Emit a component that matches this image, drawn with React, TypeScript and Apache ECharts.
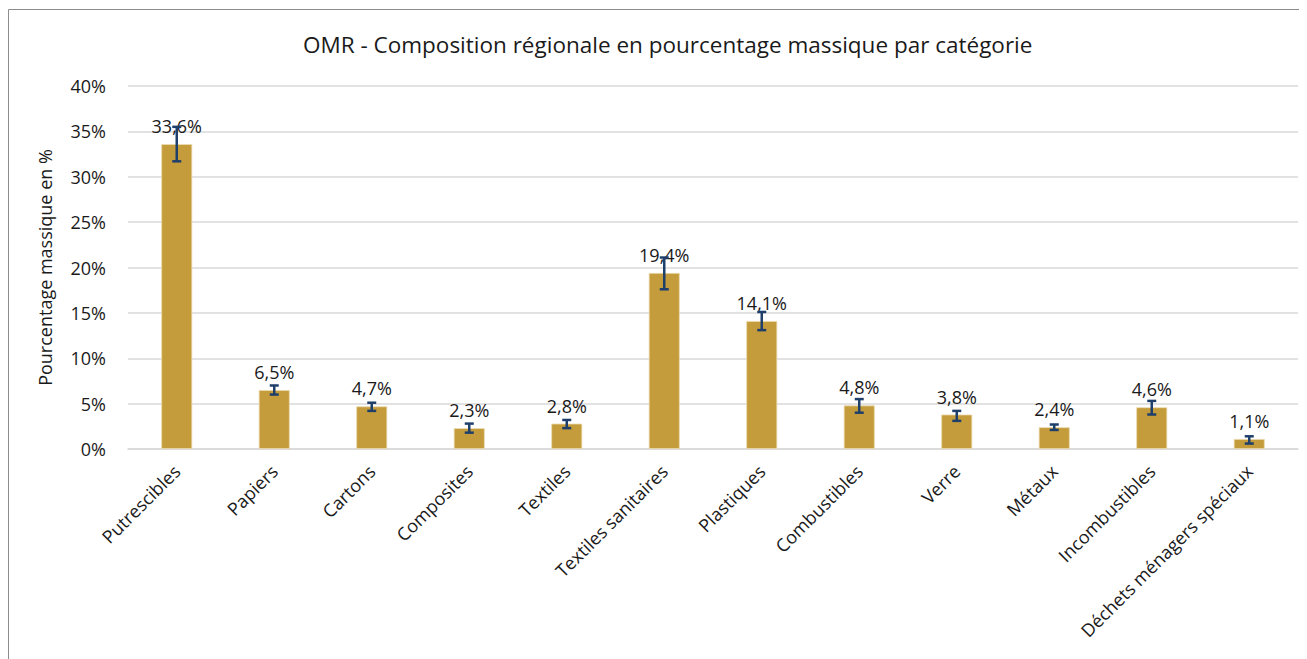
import React, { useEffect, useRef } from "react";
import * as echarts from "echarts";

const categories = [
  "Putrescibles",
  "Papiers",
  "Cartons",
  "Composites",
  "Textiles",
  "Textiles sanitaires",
  "Plastiques",
  "Combustibles",
  "Verre",
  "Métaux",
  "Incombustibles",
  "Déchets ménagers spéciaux",
];
const values = [33.6, 6.5, 4.7, 2.3, 2.8, 19.4, 14.1, 4.8, 3.8, 2.4, 4.6, 1.1];
const errLow = [31.7, 6.0, 4.2, 1.8, 2.3, 17.6, 13.1, 4.0, 3.1, 2.1, 3.8, 0.6];
const errHigh = [35.5, 7.0, 5.1, 2.8, 3.2, 21.1, 15.1, 5.5, 4.2, 2.7, 5.3, 1.4];
const yMin = 0;
const yMax = 40;
const yInterval = 5;

const FONT = "'Open Sans', 'Noto Sans', sans-serif";
const TEXT = "#1a1a1a";

export default function App() {
  const ref = useRef<HTMLDivElement>(null);
  useEffect(() => {
    if (!ref.current) return;
    const chart = echarts.init(ref.current, null, { renderer: "svg" });
    const errColor = "#1f3f6b";
    chart.setOption({
      animation: false,
      backgroundColor: "#ffffff",
      textStyle: { fontFamily: FONT, color: TEXT },
      title: {
        text: "OMR - Composition régionale en pourcentage massique par catégorie",
        left: 290,
        top: 20,
        textStyle: { fontFamily: FONT, fontSize: 22.5, fontWeight: "normal", color: TEXT },
      },
      graphic: [
        { type: "line", shape: { x1: 0.5, y1: 1.5, x2: 1299, y2: 1.5 }, style: { stroke: "#8c8c8c", lineWidth: 1 }, z: 100 },
        { type: "line", shape: { x1: 0.5, y1: 1.5, x2: 0.5, y2: 651 }, style: { stroke: "#8c8c8c", lineWidth: 1 }, z: 100 },
      ],
      grid: { left: 120, right: 9, top: 78, bottom: 210, containLabel: false },
      xAxis: {
        type: "category",
        data: categories,
        axisLine: { show: true, lineStyle: { color: "#d9d9d9", width: 1.5 } },
        axisTick: { show: false },
        axisLabel: {
          rotate: 45,
          margin: 19,
          interval: 0,
          fontFamily: FONT,
          fontSize: 18,
          color: TEXT,
        },
      },
      yAxis: {
        type: "value",
        min: yMin,
        max: yMax,
        interval: yInterval,
        name: "Pourcentage massique en %",
        nameLocation: "middle",
        nameGap: 74,
        nameTextStyle: { fontFamily: FONT, fontSize: 18, color: TEXT },
        axisLine: { show: false },
        axisTick: { show: false },
        splitLine: { lineStyle: { color: "#d9d9d9", width: 1.5 } },
        axisLabel: {
          formatter: "{value}%",
          fontFamily: FONT,
          fontSize: 18,
          color: TEXT,
          margin: 22,
        },
      },
      series: [
        {
          type: "bar",
          data: values,
          barWidth: 31,
          itemStyle: { color: "#c49c3c", borderColor: "#ecdcb2", borderWidth: 0.8 },
          label: {
            show: true,
            position: "top",
            distance: 9,
            fontFamily: FONT,
            fontSize: 18,
            color: TEXT,
            formatter: (p: any) => p.value.toFixed(1).replace(".", ",") + "%",
          },
          z: 2,
        },
        {
          type: "custom",
          data: categories.map((_, i) => [i, errLow[i], errHigh[i]]),
          encode: { x: 0, y: [1, 2] },
          z: 5,
          renderItem: (params: any, api: any) => {
            const x = api.value(0);
            const lo = api.coord([x, api.value(1)]);
            const hi = api.coord([x, api.value(2)]);
            const half = 4.5;
            const style = { stroke: errColor, lineWidth: 2.5 };
            return {
              type: "group",
              children: [
                { type: "line", shape: { x1: hi[0], y1: hi[1], x2: lo[0], y2: lo[1] }, style },
                { type: "line", shape: { x1: hi[0] - half, y1: hi[1], x2: hi[0] + half, y2: hi[1] }, style },
                { type: "line", shape: { x1: lo[0] - half, y1: lo[1], x2: lo[0] + half, y2: lo[1] }, style },
              ],
            };
          },
        },
      ],
    });
    return () => chart.dispose();
  }, []);
  return <div ref={ref} style={{ width: 1299, height: 651 }} />;
}
